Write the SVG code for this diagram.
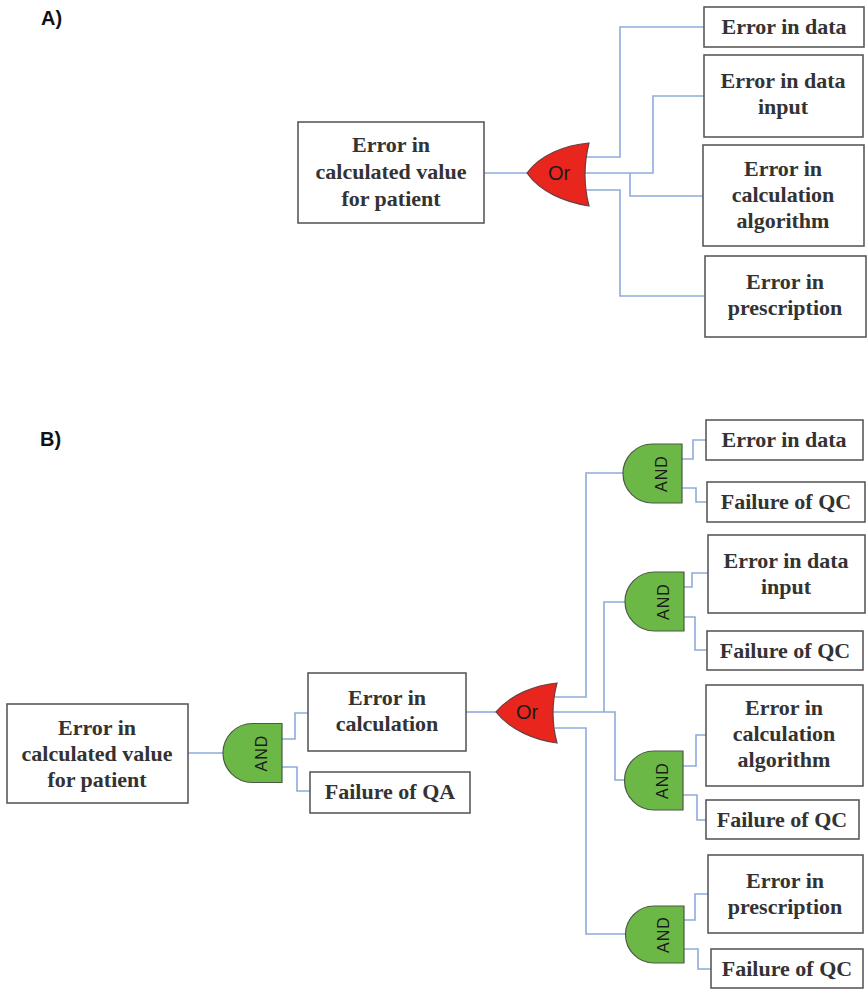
<svg xmlns="http://www.w3.org/2000/svg" width="868" height="989" viewBox="0 0 868 989">
<style>
.box{fill:#fff;stroke:#5a5a5a;stroke-width:1.6}
.t{font-family:"Liberation Serif","Times New Roman",serif;font-weight:bold;font-size:22px;fill:#333;text-anchor:middle}
.lbl{font-family:"Liberation Sans",Arial,sans-serif;font-weight:bold;font-size:20px;fill:#111}
.c{fill:none;stroke:#8eaadc;stroke-width:1.6}
.or{fill:#e8261e;stroke:#6a4040;stroke-width:1.2}
.and{fill:#6cb846;stroke:#4a5a44;stroke-width:1.2}
.gt{font-family:"Liberation Sans",Arial,sans-serif;font-size:20px;fill:#1a1a1a;text-anchor:middle}
.at{font-family:"Liberation Sans",Arial,sans-serif;font-size:16px;fill:#1a1a1a;text-anchor:middle;letter-spacing:1px}
</style>
<rect width="868" height="989" fill="#fff"/>
<text class="lbl" x="41" y="25">A)</text>
<text class="lbl" x="40" y="446">B)</text>

<g id="connectors">
<path class="c" d="M484,173H527"/>
<path class="c" d="M585,157H620V27H704"/>
<path class="c" d="M584,173H653V96H704"/>
<path class="c" d="M630,173V196H704"/>
<path class="c" d="M585,190H620V296H705"/>

<path class="c" d="M188,753H223"/>
<path class="c" d="M282,739H295V713H308"/>
<path class="c" d="M282,767H297V791H310"/>
<path class="c" d="M466,712H496"/>
<path class="c" d="M554,697H586V473H623"/>
<path class="c" d="M553,712H615V780H625"/>
<path class="c" d="M604,712V602H625"/>
<path class="c" d="M555,728H586V934H625"/>
<path class="c" d="M682,459H693V440H706"/>
<path class="c" d="M682,488H696V502H707"/>
<path class="c" d="M684,587H692V573H708"/>
<path class="c" d="M684,617H695V650H707"/>
<path class="c" d="M683,766H696V735H706"/>
<path class="c" d="M683,795H697V820H706"/>
<path class="c" d="M684,920H695V894H708"/>
<path class="c" d="M684,949H698V969H711"/>
</g>

<!-- Part A -->
<g id="a_top">
<rect class="box" x="298" y="122" width="186" height="101"/>
<text class="t" x="391" y="152">Error in</text>
<text class="t" x="391" y="179">calculated value</text>
<text class="t" x="391" y="206">for patient</text>
</g>
<g id="a_or">
<path class="or" d="M589,143Q581,175 589,206C565,202 540,192 527,173C540,155 565,145 589,143Z"/>
<text class="gt" x="559" y="180">Or</text>
</g>
<g id="a_data">
<rect class="box" x="704" y="7" width="160" height="40"/>
<text class="t" x="784" y="34">Error in data</text>
</g>
<g id="a_input">
<rect class="box" x="704" y="55" width="159" height="82"/>
<text class="t" x="783" y="88">Error in data</text>
<text class="t" x="783" y="114">input</text>
</g>
<g id="a_algo">
<rect class="box" x="703" y="145" width="161" height="101"/>
<text class="t" x="783" y="176">Error in</text>
<text class="t" x="783" y="202">calculation</text>
<text class="t" x="783" y="228">algorithm</text>
</g>
<g id="a_presc">
<rect class="box" x="705" y="256" width="161" height="81"/>
<text class="t" x="785" y="289">Error in</text>
<text class="t" x="785" y="315">prescription</text>
</g>

<!-- Part B -->
<g id="b_top">
<rect class="box" x="7" y="704" width="181" height="99"/>
<text class="t" x="97" y="735">Error in</text>
<text class="t" x="97" y="761">calculated value</text>
<text class="t" x="97" y="787">for patient</text>
</g>
<g id="b_and0">
<path class="and" d="M252.5,723.5H282V782.5H252.5A29.5,29.5 0 0 1 252.5,723.5Z"/>
<text class="at" transform="translate(261,753) rotate(-90)" y="6">AND</text>
</g>
<g id="b_calc">
<rect class="box" x="308" y="673" width="158" height="78"/>
<text class="t" x="387" y="705">Error in</text>
<text class="t" x="387" y="731">calculation</text>
</g>
<g id="b_qa">
<rect class="box" x="310" y="772" width="160" height="41"/>
<text class="t" x="390" y="799">Failure of QA</text>
</g>
<g id="b_or">
<path class="or" d="M557,683Q549,713 557,743C535,740 510,730 496,712C510,695 535,685 557,683Z"/>
<text class="gt" x="527" y="719">Or</text>
</g>
<g id="b_and1">
<path class="and" d="M652.5,444H682V503H652.5A29.5,29.5 0 0 1 652.5,444Z"/>
<text class="at" transform="translate(661,473.5) rotate(-90)" y="6">AND</text>
</g>
<g id="b_and2">
<path class="and" d="M654.5,572H684V631H654.5A29.5,29.5 0 0 1 654.5,572Z"/>
<text class="at" transform="translate(663,601.5) rotate(-90)" y="6">AND</text>
</g>
<g id="b_and3">
<path class="and" d="M654,751H683V810H654A29.5,29.5 0 0 1 654,751Z"/>
<text class="at" transform="translate(662,780.5) rotate(-90)" y="6">AND</text>
</g>
<g id="b_and4">
<path class="and" d="M654,906H684V963H654A28.5,28.5 0 0 1 654,906Z"/>
<text class="at" transform="translate(663,934.5) rotate(-90)" y="6">AND</text>
</g>
<g id="b_data">
<rect class="box" x="706" y="420" width="157" height="40"/>
<text class="t" x="784" y="447">Error in data</text>
</g>
<g id="b_qc1">
<rect class="box" x="707" y="482" width="158" height="40"/>
<text class="t" x="786" y="509">Failure of QC</text>
</g>
<g id="b_input">
<rect class="box" x="708" y="535" width="157" height="78"/>
<text class="t" x="786" y="568">Error in data</text>
<text class="t" x="786" y="594">input</text>
</g>
<g id="b_qc2">
<rect class="box" x="707" y="631" width="156" height="39"/>
<text class="t" x="785" y="658">Failure of QC</text>
</g>
<g id="b_algo">
<rect class="box" x="706" y="685" width="157" height="101"/>
<text class="t" x="784" y="715">Error in</text>
<text class="t" x="784" y="741">calculation</text>
<text class="t" x="784" y="767">algorithm</text>
</g>
<g id="b_qc3">
<rect class="box" x="706" y="800" width="153" height="39"/>
<text class="t" x="782" y="827">Failure of QC</text>
</g>
<g id="b_presc">
<rect class="box" x="708" y="855" width="155" height="78"/>
<text class="t" x="785" y="888">Error in</text>
<text class="t" x="785" y="914">prescription</text>
</g>
<g id="b_qc4">
<rect class="box" x="711" y="949" width="152" height="39"/>
<text class="t" x="787" y="976">Failure of QC</text>
</g>
</svg>
